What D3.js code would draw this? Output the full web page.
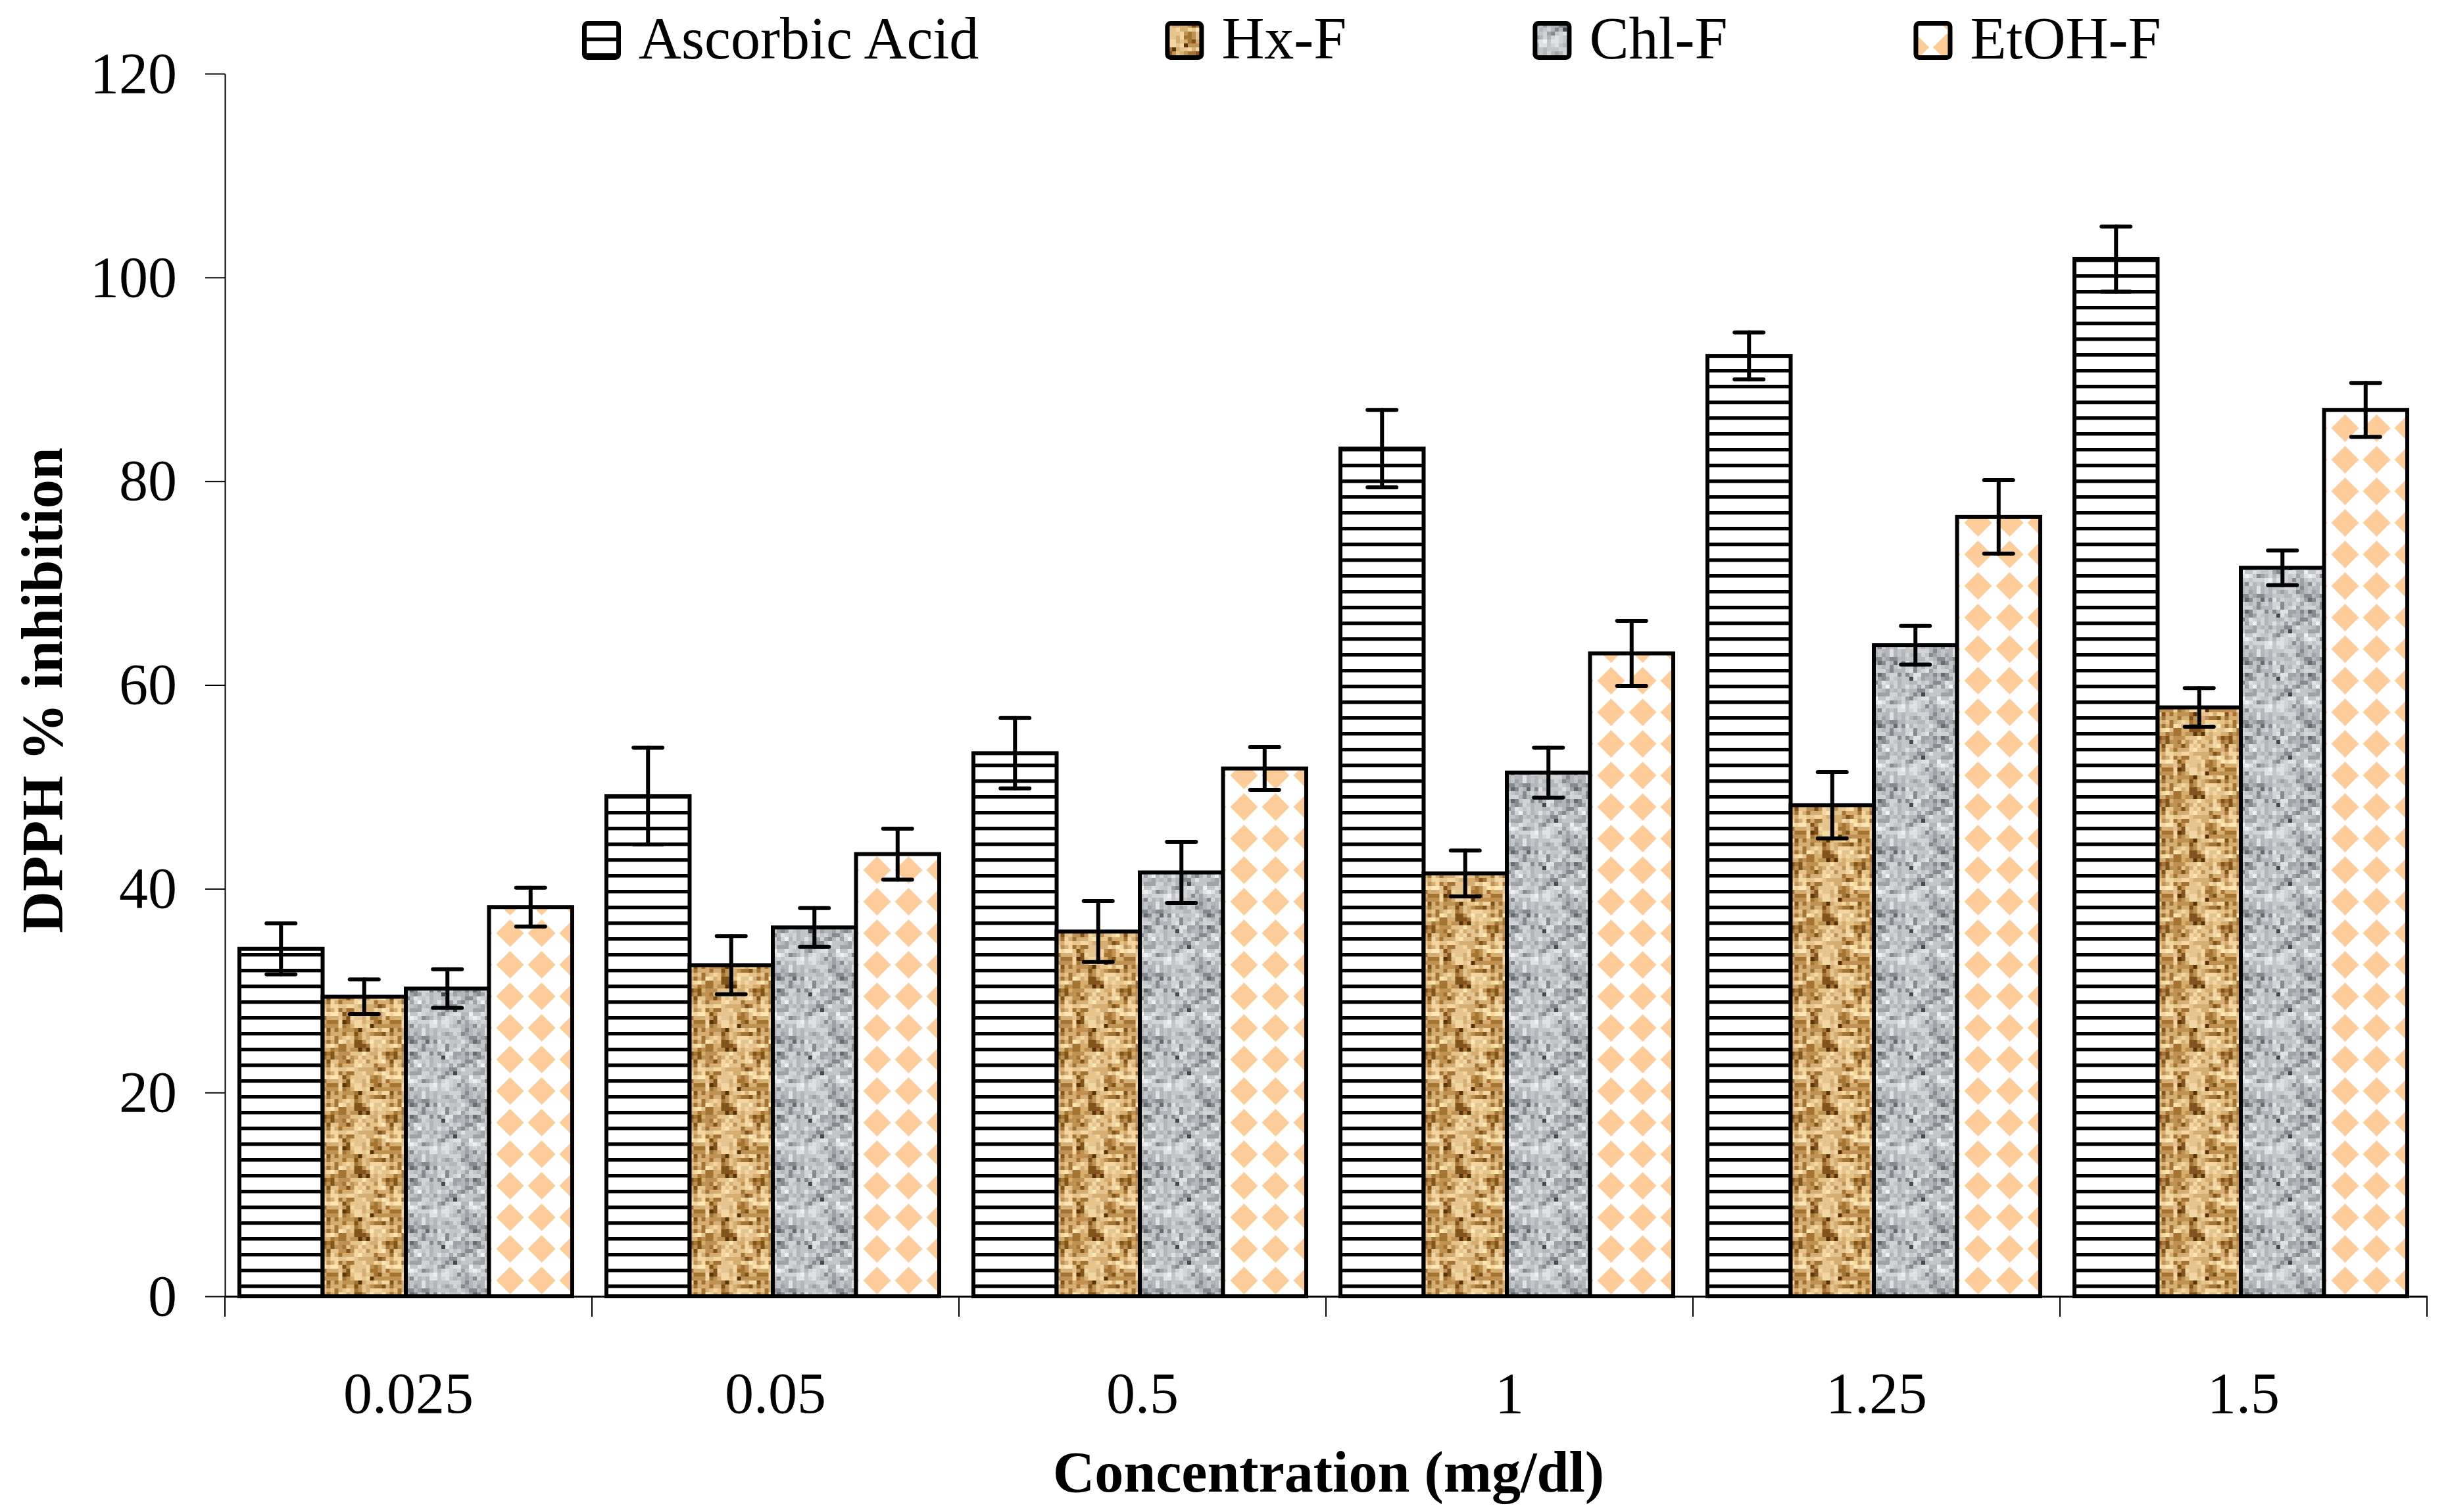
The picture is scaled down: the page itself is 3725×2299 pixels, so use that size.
<!DOCTYPE html>
<html>
<head>
<meta charset="utf-8">
<style>
  body { margin: 0; background: #fff; }
  svg text { font-family: "Liberation Serif", "Times New Roman", serif; fill: #000; }
</style>
</head>
<body>
<div id="chart"></div>
<script src="https://d3js.org/d3.v7.min.js"></script>
<script>
// values (DPPH % inhibition, mean and error)
const concentrations = ["0.025", "0.05", "0.5", "1", "1.25", "1.5"];
const seriesNames = ["Ascorbic Acid", "Hx-F", "Chl-F", "EtOH-F"];
const ascorbic    = [34.1, 49.1, 53.3, 83.2, 92.3, 101.8];
const ascorbicErr = [2.5, 4.75, 3.45, 3.8, 2.3, 3.2];
const hxF    = [29.4, 32.5, 35.8, 41.5, 48.2, 57.8];
const hxFErr = [1.7, 2.85, 3.0, 2.25, 3.25, 1.9];
const chlF    = [30.2, 36.2, 41.6, 51.4, 63.9, 71.5];
const chlFErr = [1.9, 1.9, 3.0, 2.45, 1.9, 1.7];
const etohF    = [38.2, 43.4, 51.8, 63.1, 76.5, 87.0];
const etohFErr = [1.9, 2.5, 2.1, 3.2, 3.6, 2.65];
const yTicks = [0, 20, 40, 60, 80, 100, 120];

const values = [ascorbic, hxF, chlF, etohF];
const errors = [ascorbicErr, hxFErr, chlFErr, etohFErr];

width = 3725
height = 2299
margin = ({top: 112, right: 35, bottom: 328, left: 342})
fontSize = 88

const svg = d3.select("#chart").append("svg")
    .attr("width", width)
    .attr("height", height)
    .style("display", "block");

svg.append("rect").attr("width", width).attr("height", height).attr("fill", "#fff");

x = d3.scaleBand()
    .domain(concentrations)
    .range([margin.left, width - margin.right])

xs = d3.scaleBand()
    .domain(seriesNames)
    .range([22, 528])

y = d3.scaleLinear()
    .domain([0, 120])
    .range([height - margin.bottom, margin.top])

// ---- fill patterns ----
const defs = svg.append("defs");

// small deterministic hash, only used for the texture look of the fills
function hash(a, b, c) {
  let n = Math.imul(a + 17, 73856093) ^ Math.imul(b + 31, 19349663) ^ Math.imul(c + 7, 83492791);
  n = Math.imul(n ^ (n >>> 13), 1274126177);
  n = n ^ (n >>> 16);
  return ((n >>> 0) % 10000) / 10000;
}

function linesPattern(id, offsetY) {
  const p = defs.append("pattern").attr("id", id)
      .attr("patternUnits", "userSpaceOnUse")
      .attr("x", 0).attr("y", offsetY)
      .attr("width", 12).attr("height", 24);
  p.append("rect").attr("width", 12).attr("height", 24).attr("fill", "#fff");
  p.append("rect").attr("y", 0).attr("width", 12).attr("height", 5).attr("fill", "#000");
  p.append("rect").attr("y", 5).attr("width", 12).attr("height", 1).attr("fill", "#999");
}
linesPattern("pAA", 6);
linesPattern("pAAleg", 57);

// woven brown texture
(function () {
  const cols = ["#5a3306", "#82531a", "#a57433", "#bf9152", "#d6ae72", "#e6c48e", "#f3d7a2", "#fde8b5"];
  const cell = 6, n = 16;
  const p = defs.append("pattern").attr("id", "pHx")
      .attr("patternUnits", "userSpaceOnUse")
      .attr("width", cell * n).attr("height", cell * n);
  for (let cy = 0; cy < n; cy++) {
    for (let cx = 0; cx < n; cx++) {
      const bx = cx >> 2, by = cy >> 2;
      const horiz = (bx + by) % 2 === 0;
      const streak = horiz ? cy : cx;
      const t = hash(bx, by, streak) * 0.6 + hash(cx, cy, 3) * 0.4;
      const idx = Math.min(cols.length - 1, Math.floor(Math.pow(t, 0.75) * cols.length));
      p.append("rect").attr("x", cx * cell).attr("y", cy * cell)
          .attr("width", cell).attr("height", cell).attr("fill", cols[idx]);
    }
  }
})();

// grey granite texture
(function () {
  const cols = ["#464b50", "#666b70", "#868a8f", "#9fa3a7", "#b3b6ba", "#c3c6c9", "#d1d3d6", "#dfe1e3", "#eef0f1"];
  const cell = 6, n = 16;
  const p = defs.append("pattern").attr("id", "pChl")
      .attr("patternUnits", "userSpaceOnUse")
      .attr("width", cell * n).attr("height", cell * n);
  for (let cy = 0; cy < n; cy++) {
    for (let cx = 0; cx < n; cx++) {
      const t = hash(cx >> 1, cy >> 1, 11) * 0.5 + hash(cx, cy, 5) * 0.5;
      const idx = Math.min(cols.length - 1, Math.floor(Math.pow(t, 0.75) * cols.length));
      p.append("rect").attr("x", cx * cell).attr("y", cy * cell)
          .attr("width", cell).attr("height", cell).attr("fill", cols[idx]);
    }
  }
})();

// peach diamonds
(function () {
  const p = defs.append("pattern").attr("id", "pEtOH")
      .attr("patternUnits", "userSpaceOnUse")
      .attr("x", 8).attr("y", 0)
      .attr("width", 48).attr("height", 48);
  p.append("rect").attr("width", 48).attr("height", 48).attr("fill", "#fff");
  p.append("polygon").attr("points", "24,3 45,24 24,45 3,24").attr("fill", "#fecc98");
})();

const fills = ["url(#pAA)", "url(#pHx)", "url(#pChl)", "url(#pEtOH)"];
const legendFills = ["url(#pAAleg)", "url(#pHx)", "url(#pChl)", "url(#pEtOH)"];

// table for drawing
const rows = [];
concentrations.forEach((c, i) => {
  seriesNames.forEach((s, j) => {
    rows.push({c: c, s: s, j: j, v: values[j][i], e: errors[j][i]});
  });
});

// ---- bars ----
const bars = svg.append("g")
  .selectAll("g")
  .data(rows)
  .join("g")
    .attr("transform", d => `translate(${x(d.c) + xs(d.s)},${y(0)})`);

bars.append("rect")
    .attr("x", 0)
    .attr("y", d => y(d.v) - y(0))
    .attr("width", xs.bandwidth())
    .attr("height", d => y(0) - y(d.v))
    .attr("fill", d => fills[d.j])
    .attr("stroke", "#000")
    .attr("stroke-width", 6);

// ---- axes ----
svg.append("g")
    .attr("transform", `translate(${margin.left},0)`)
    .call(d3.axisLeft(y).tickValues(yTicks).tickSize(30).tickPadding(43).tickSizeOuter(0))
    .attr("font-size", fontSize)
    .attr("font-family", "Liberation Serif")
    .call(g => g.select(".domain").attr("stroke-width", 2))
    .call(g => g.selectAll(".tick line").attr("stroke-width", 2));

svg.append("g")
    .attr("transform", `translate(0,${y(0)})`)
    .call(d3.axisBottom(x).tickSize(0).tickSizeOuter(0))
    .attr("font-size", fontSize)
    .attr("font-family", "Liberation Serif")
    .call(g => g.select(".domain").attr("stroke-width", 3))
    .call(g => g.selectAll(".tick text").attr("y", 177).attr("dy", null))
    .call(g => g.selectAll(".sep")
        .data(d3.range(concentrations.length + 1))
        .join("line")
          .attr("class", "sep")
          .attr("x1", i => x.range()[0] + i * x.step())
          .attr("x2", i => x.range()[0] + i * x.step())
          .attr("y1", 0)
          .attr("y2", 31)
          .attr("stroke", "#000")
          .attr("stroke-width", 2));

// ---- error bars ----
const err = svg.append("g")
    .attr("stroke", "#000")
    .attr("stroke-width", 6)
    .attr("stroke-linecap", "round")
  .selectAll("g")
  .data(rows)
  .join("g")
    .attr("transform", d => `translate(${x(d.c) + xs(d.s) + xs.bandwidth() / 2},0)`);

err.append("line")
    .attr("y1", d => y(d.v + d.e))
    .attr("y2", d => y(d.v - d.e));
err.append("line")
    .attr("x1", -22).attr("x2", 22)
    .attr("y1", d => y(d.v + d.e)).attr("y2", d => y(d.v + d.e));
err.append("line")
    .attr("x1", -22).attr("x2", 22)
    .attr("y1", d => y(d.v - d.e)).attr("y2", d => y(d.v - d.e));

// ---- titles ----
svg.append("text")
    .attr("transform", `translate(94,${(y(0) + y(120)) / 2 + 8}) rotate(-90)`)
    .attr("text-anchor", "middle")
    .attr("font-size", fontSize)
    .attr("font-weight", "bold")
    .text("DPPH % inhibition");

svg.append("text")
    .attr("x", (x.range()[0] + x.range()[1]) / 2 + 4)
    .attr("y", 2268)
    .attr("text-anchor", "middle")
    .attr("font-size", fontSize)
    .attr("font-weight", "bold")
    .text("Concentration (mg/dl)");

// ---- legend ----
const legend = svg.append("g");
let lx = 885;
seriesNames.forEach((s, j) => {
  legend.append("rect")
      .attr("x", lx + 3.5).attr("y", 35.5)
      .attr("width", 52).attr("height", 52)
      .attr("rx", 5)
      .attr("fill", legendFills[j])
      .attr("stroke", "#000")
      .attr("stroke-width", 7);
  const t = legend.append("text")
      .attr("x", lx + 86)
      .attr("y", 89)
      .attr("font-size", 90)
      .text(s);
  lx = lx + 86 + t.node().getComputedTextLength() + 283;
});
</script>
</body>
</html>
